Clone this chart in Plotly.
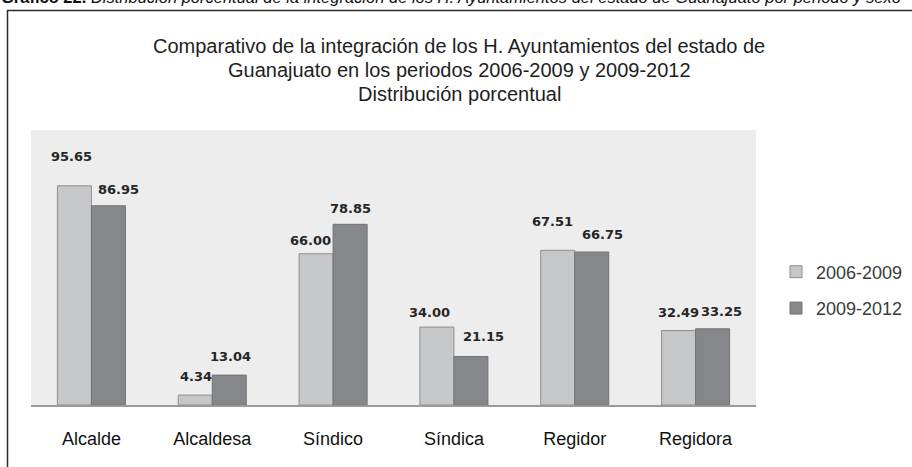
import plotly.graph_objects as go

# Datos
cargos = ['Alcalde', 'Alcaldesa', 'Síndico', 'Síndica', 'Regidor', 'Regidora']
periodo_2006 = [95.65, 4.34, 66.00, 34.00, 67.51, 32.49]
periodo_2009 = [86.95, 13.04, 78.85, 21.15, 66.75, 33.25]

# posición manual de las etiquetas (px): desplazamiento horizontal y altura sobre la barra
dx_2006 = [-3, 1, -6, -7, -5, 0]
up_2006 = [29, 19, 13, 15, 29, 18]
dx_2009 = [10, 1, 0, 13, 11, 9]
up_2009 = [16, 19, 16, 20, 18, 17]

W, H = 912, 467
PL, PR, PT, PB = 31, 756, 130, 405   # área de trazado en la imagen de referencia
plot_w = PR - PL
plot_h = PB - PT
L, T = PL, PT
R = W - L - plot_w
B = H - T - plot_h
fuente = "Liberation Sans, Arial, sans-serif"


def px_x(x):
    return (x - PL) / plot_w


def px_y(y):
    return (PB - y) / plot_h


fig = go.Figure()
fig.add_trace(go.Bar(
    x=cargos, y=periodo_2006, name='2006-2009', legendgroup='a',
    marker=dict(color='#c6c7c9', line=dict(color='#8e8e8e', width=1))
))
fig.add_trace(go.Bar(
    x=cargos, y=periodo_2009, name='2009-2012', legendgroup='b',
    marker=dict(color='#86878b', line=dict(color='#737373', width=1))
))

# etiquetas de datos
for serie, dxs, ups, off in [(periodo_2006, dx_2006, up_2006, -17),
                             (periodo_2009, dx_2009, up_2009, 17)]:
    for c, v, dx, up in zip(cargos, serie, dxs, ups):
        fig.add_annotation(
            x=c, y=v, text=f"{v:.2f}", showarrow=False,
            xshift=off + dx, yshift=up, yanchor='middle',
            font=dict(family="DejaVu Sans, sans-serif", size=13, color='#262626', weight='bold')
        )

# título en tres líneas
titulo = ["Comparativo de la integración de los H. Ayuntamientos del estado de",
          "Guanajuato en los periodos 2006-2009 y 2009-2012",
          "Distribución porcentual"]
for linea, ypx in zip(titulo, [46, 70, 94]):
    fig.add_annotation(
        xref='paper', yref='paper', x=px_x(459), y=px_y(ypx),
        text=linea, showarrow=False, xanchor='center', yanchor='middle',
        font=dict(family=fuente, size=20, color='#1e1e1e')
    )

# pie de gráfico, recortado arriba como en el original
fig.add_annotation(
    xref='paper', yref='paper', x=px_x(-1), y=px_y(8), xanchor='left', yanchor='bottom',
    text="<b>Gráfico 22.</b><i> Distribución porcentual de la integración de los H. Ayuntamientos "
         "del estado de Guanajuato por periodo y sexo</i>",
    showarrow=False, font=dict(family=fuente, size=16.5, color='#111111')
)

# marco exterior
fig.add_shape(
    type='rect', xref='paper', yref='paper',
    x0=px_x(7.5), x1=px_x(W + 30), y0=px_y(H + 30), y1=px_y(10.5),
    line=dict(color='#2b2b2b', width=1.5), fillcolor='rgba(0,0,0,0)', layer='below'
)

fig.update_layout(
    width=W, height=H,
    margin=dict(l=L, r=R, t=T, b=B, autoexpand=False),
    paper_bgcolor='white', plot_bgcolor='#ededed',
    barmode='group', bargap=0.437, bargroupgap=0,
    showlegend=True,
    legend=dict(
        x=px_x(776), y=px_y(290), xanchor='left', yanchor='middle',
        font=dict(family=fuente, size=18, color='#3a3a3a'),
        traceorder='grouped', tracegroupgap=10, bgcolor='rgba(0,0,0,0)'
    ),
    xaxis=dict(
        showgrid=False, showline=True, linecolor='#9a9a9a', linewidth=1.5,
        ticks='', ticklabelstandoff=17,
        tickfont=dict(family=fuente, size=18, color='#111111')
    ),
    yaxis=dict(range=[0, 120], showgrid=False, showticklabels=False, zeroline=False),
)

# sin margen del body para que la figura ocupe la ventana entera
fig.write_html("out.html", config={'displayModeBar': False},
               post_script="document.body.style.margin='0';")
